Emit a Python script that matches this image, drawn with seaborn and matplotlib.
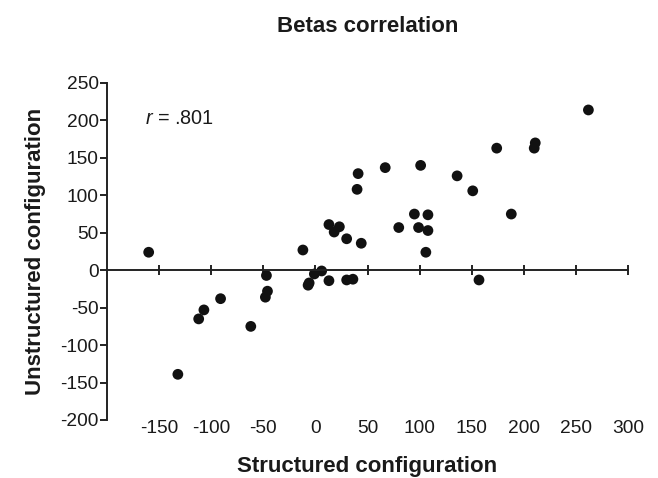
import matplotlib
matplotlib.use("Agg")
import matplotlib.pyplot as plt
import seaborn as sns
import pandas as pd

structured = [-160, -132, -112, -107, -91, -62, -48, -46, -47, -12, -7, -6, -1, 6, 13,
              13, 18, 23, 30, 30, 36, 40, 41, 44, 67, 80, 95, 99, 101, 106,
              108, 108, 136, 151, 157, 174, 188, 210, 211, 262]
unstructured = [24, -139, -65, -53, -38, -75, -36, -28, -7, 27, -20, -17, -5, -1, -14,
                61, 51, 58, 42, -13, -12, 108, 129, 36, 137, 57, 75, 57, 140, 24,
                74, 53, 126, 106, -13, 163, 75, 163, 170, 214]
x_ticks = [-150, -100, -50, 0, 50, 100, 150, 200, 250, 300]
y_ticks = [-200, -150, -100, -50, 0, 50, 100, 150, 200, 250]
title = "Betas correlation"
x_label = "Structured configuration"
y_label = "Unstructured configuration"
r_text = "$r$ = .801"

df = pd.DataFrame({"Structured": structured, "Unstructured": unstructured})

sns.set_style("ticks")
plt.rcParams["font.family"] = ["Liberation Sans", "DejaVu Sans"]
plt.rcParams["mathtext.fontset"] = "custom"
plt.rcParams["mathtext.it"] = "Liberation Sans:italic"
plt.rcParams["mathtext.rm"] = "Liberation Sans"
plt.rcParams["axes.unicode_minus"] = False

fig = plt.figure(figsize=(6.58, 4.78), dpi=100)
ax = fig.add_axes([107/658, 1 - 420/478, (628 - 107)/658, (420 - 83)/478])

sns.scatterplot(data=df, x="Structured", y="Unstructured", ax=ax,
                color="#111111", s=60, edgecolor="none", linewidth=0)

ax.set_xlim(-200, 300)
ax.set_ylim(-200, 250)
ax.set_xticks(x_ticks)
ax.set_yticks(y_ticks)

for sp in ["top", "right"]:
    ax.spines[sp].set_visible(False)
ax.spines["bottom"].set_position(("data", 0))
ax.spines["bottom"].set_linewidth(1.4)
ax.spines["left"].set_linewidth(1.4)
ax.spines["bottom"].set_color("#222222")
ax.spines["left"].set_color("#222222")

ax.tick_params(axis="x", direction="inout", length=7, width=1.4, color="#222222",
               labelsize=13.8, pad=104, labelcolor="#1a1a1a")
ax.tick_params(axis="y", direction="out", length=5, width=1.4, color="#222222",
               labelsize=13.8, pad=1, labelcolor="#1a1a1a")

ax.set_xlabel(x_label, fontsize=16, fontweight="bold", color="#1a1a1a")
ax.xaxis.set_label_coords(0.5, -0.1365)
ax.xaxis.label.set_va("center")
ax.set_ylabel(y_label, fontsize=16, fontweight="bold", color="#1a1a1a")
ax.yaxis.set_label_coords(-(107 - 36)/521, 0.5)
ax.yaxis.label.set_va("center")

ax.set_title(title, fontsize=16, fontweight="bold", color="#1a1a1a", y=(420 - 27)/337, va="center", pad=0)

ax.text(-164, 203, r_text, fontsize=14.3, color="#1a1a1a", va="center", ha="left")

fig.savefig("out.png", dpi=100)
